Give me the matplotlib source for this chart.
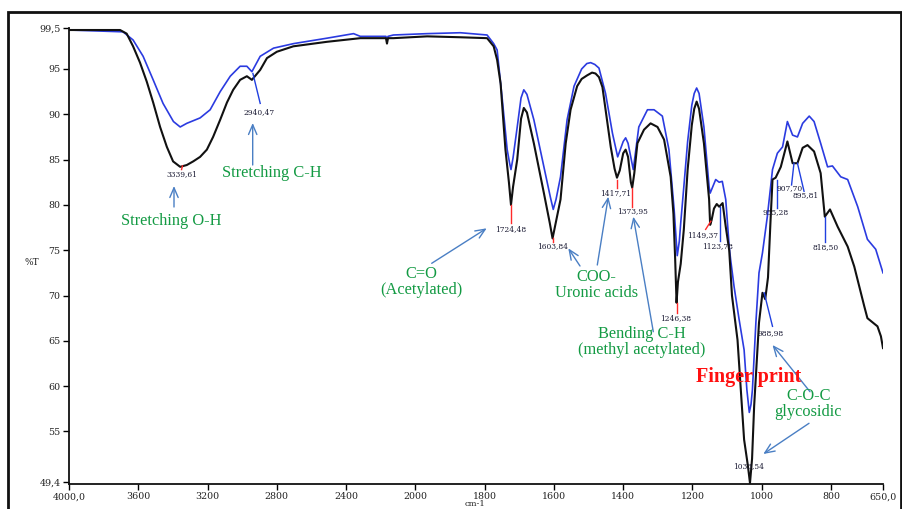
import numpy as np
import matplotlib
matplotlib.use("Agg")
import matplotlib.pyplot as plt
from matplotlib.patches import Rectangle

# ---------------- data ----------------
black_wn = [4000, 3705, 3667, 3630, 3590, 3551, 3514, 3474, 3435, 3399, 3358, 3320, 3283, 3243,
            3204, 3168, 3127, 3088, 3052, 3012, 2973, 2944, 2896, 2857, 2800, 2705, 2510, 2318,
            2170, 2164, 2158, 2127, 1966, 1870, 1793, 1774, 1764, 1754, 1740, 1730, 1724, 1718,
            1706, 1695, 1687, 1678, 1658, 1629, 1612, 1604, 1596, 1581, 1566, 1552, 1533, 1520,
            1504, 1490, 1480, 1470, 1460, 1451, 1436, 1425, 1418, 1410, 1400, 1393, 1386, 1378,
            1374, 1368, 1359, 1340, 1321, 1301, 1282, 1263, 1255, 1250, 1246, 1242, 1234, 1225,
            1214, 1202, 1195, 1188, 1181, 1167, 1152, 1149, 1145, 1138, 1130, 1123, 1113, 1104,
            1094, 1086, 1070, 1051, 1040, 1034, 1028, 1022, 1008, 998, 990, 982, 975, 969, 960,
            945, 926, 911, 897, 882, 868, 849, 830, 818, 803, 781, 752, 733, 704, 695, 666, 656, 650]
black_T = [99.3, 99.3, 98.9, 97.5, 95.7, 93.6, 91.3, 88.6, 86.4, 84.8, 84.2, 84.4, 84.8, 85.3,
           86.1, 87.5, 89.4, 91.3, 92.7, 93.8, 94.2, 93.8, 94.9, 96.2, 96.9, 97.5, 98.0, 98.4,
           98.4, 97.8, 98.4, 98.4, 98.6, 98.5, 98.4, 97.5, 96.0, 93.4, 86.1, 82.5, 80.0, 82.0,
           85.0, 89.5, 90.7, 90.2, 86.8, 81.3, 78.0, 76.3, 77.8, 80.6, 86.8, 90.5, 93.1, 93.9,
           94.3, 94.6, 94.5, 94.1, 93.0, 90.5, 86.4, 84.0, 83.0, 83.8, 85.7, 86.1, 85.3, 82.5,
           81.9, 83.5, 86.8, 88.3, 89.0, 88.6, 87.2, 83.1, 79.0, 74.0, 69.2, 71.5, 73.5, 77.3,
           83.9, 88.8, 90.6, 91.4, 90.6, 86.8, 80.6, 77.8, 78.3, 79.6, 80.1, 79.8, 80.2, 77.6,
           75.0, 70.0, 65.1, 54.1, 51.2, 49.3, 52.0, 57.8, 67.0, 70.3, 69.6, 72.0, 78.0, 82.8, 83.0,
           84.2, 87.0, 84.6, 84.6, 86.3, 86.6, 85.9, 83.5, 78.7, 79.5, 77.6, 75.4, 73.2, 68.8, 67.5,
           66.6, 65.5, 64.2]

blue_wn = [4000, 3688, 3630, 3572, 3514, 3457, 3397, 3358, 3320, 3243, 3185, 3127, 3069, 3012,
           2973, 2944, 2896, 2819, 2703, 2510, 2357, 2318, 2170, 2164, 2158, 2127, 1966, 1870,
           1793, 1774, 1764, 1749, 1735, 1728, 1724, 1718, 1706, 1695, 1687, 1678, 1658, 1629,
           1610, 1602, 1594, 1581, 1562, 1542, 1520, 1505, 1494, 1482, 1470, 1451, 1431, 1416,
           1400, 1393, 1386, 1371, 1355, 1330, 1311, 1287, 1268, 1253, 1244, 1238, 1234, 1225,
           1214, 1202, 1195, 1188, 1181, 1167, 1152, 1149, 1133, 1123, 1114, 1104, 1094, 1090,
           1080, 1066, 1051, 1043, 1036, 1031, 1027, 1017, 1008, 998, 984, 969, 955, 940, 926,
           911, 897, 882, 863, 849, 830, 810, 796, 772, 752, 723, 695, 671, 650]
blue_T = [99.3, 99.1, 98.2, 96.4, 93.8, 91.2, 89.2, 88.6, 89.0, 89.6, 90.5, 92.5, 94.2, 95.3,
          95.3, 94.7, 96.4, 97.3, 97.8, 98.4, 98.9, 98.6, 98.6, 98.2, 98.6, 98.75, 98.9, 99.0,
          98.75, 97.8, 97.1, 91.6, 86.1, 84.6, 83.9, 85.2, 88.6, 91.8, 92.7, 92.2, 89.4, 84.2,
          80.8, 79.5, 80.6, 83.1, 89.4, 93.1, 95.0, 95.6, 95.7, 95.5, 95.1, 92.3, 87.9, 85.3,
          87.0, 87.4, 86.8, 83.9, 88.6, 90.5, 90.5, 89.8, 86.1, 79.5, 74.4, 76.0, 78.0, 82.0,
          87.0, 91.0, 92.3, 92.9, 92.3, 88.6, 82.0, 81.3, 82.8, 82.5, 82.6, 80.6, 75.4, 74.0,
          71.0, 67.5, 64.0, 59.6, 57.1, 58.0, 59.6, 67.0, 72.5, 74.7, 78.7, 83.9, 85.7, 86.4, 89.2,
          87.7, 87.5, 89.0, 89.8, 89.2, 86.8, 84.2, 84.3, 83.1, 82.8, 79.8, 76.2, 75.1, 72.5]

x_ticks = [4000, 3600, 3200, 2800, 2400, 2000, 1800, 1600, 1400, 1200, 1000, 800, 650]
x_tick_labels = ["4000,0", "3600", "3200", "2800", "2400", "2000", "1800", "1600", "1400",
                 "1200", "1000", "800", "650,0"]
y_ticks = [99.5, 95, 90, 85, 80, 75, 70, 65, 60, 55, 49.4]
y_tick_labels = ["99,5", "95", "90", "85", "80", "75", "70", "65", "60", "55", "49,4"]

peak_labels = ["3339,61", "2940,47", "1724,48", "1603,84", "1417,71", "1373,95", "1246,38",
               "1149,37", "1123,78", "1033,54", "988,98", "955,28", "907,70", "895,81", "818,50"]
peak_text_wn = [3350, 2900, 1725, 1605, 1422, 1374, 1249, 1171, 1128, 1037, 974, 960, 921, 873, 815]
peak_text_T = [83.4, 90.2, 77.3, 75.5, 81.3, 79.3, 67.5, 76.7, 75.5, 51.2, 65.9, 79.2, 81.9, 81.1, 75.3]
lead_wn0 = [3345, 2938, 1724, 1604, 1418, 1374, 1246, 1147, 1121, np.nan, 993, 955, 907, 897, 817]
lead_T0 = [84.3, 94.5, 80.0, 76.3, 82.8, 81.9, 69.2, 78.2, 79.8, np.nan, 70.3, 82.8, 84.6, 84.6, 78.7]
lead_wn1 = [3350, 2896, 1724, 1604, 1418, 1374, 1246, 1162, 1121, np.nan, 969, 955, 914, 878, 817]
lead_T1 = [83.9, 91.2, 78.0, 75.9, 81.9, 79.8, 68.1, 77.3, 76.0, np.nan, 66.6, 79.7, 82.2, 81.5, 75.9]
lead_colors = ["red", "blue", "red", "red", "red", "red", "red", "red", "blue", "none",
               "blue", "blue", "blue", "blue", "blue"]

# ---------------- figure ----------------
W, H = 903, 509
fig = plt.figure(figsize=(W / 100, H / 100), dpi=100)
ax = fig.add_axes([69 / W, 25 / H, 814 / W, 455.8 / H])


def fwd(x):
    x = np.asarray(x, dtype=float)
    return np.where(x <= 2000, x, 2000 + (x - 2000) / 2.0)


def inv(y):
    y = np.asarray(y, dtype=float)
    return np.where(y <= 2000, y, 2000 + (y - 2000) * 2.0)


ax.set_xscale("function", functions=(fwd, inv))
ax.set_xlim(4000, 650)
ax.set_ylim(49.2, 99.5)

ax.plot(black_wn, black_T, color="#111111", lw=1.5, zorder=3, solid_joinstyle="round")
ax.plot(blue_wn, blue_T, color="#2b3be0", lw=1.2, zorder=2, solid_joinstyle="round")

for s in ["top", "right"]:
    ax.spines[s].set_visible(False)
for s in ["left", "bottom"]:
    ax.spines[s].set_linewidth(1.3)
    ax.spines[s].set_color("#111111")

ax.set_xticks(x_ticks, x_tick_labels, fontfamily="DejaVu Serif", fontsize=6.8, color="#222222")
ax.set_yticks(y_ticks, y_tick_labels, fontfamily="DejaVu Serif", fontsize=6.8, color="#222222")
ax.minorticks_off()
ax.tick_params(direction="out", length=4, width=1, pad=2)

# peak labels and leaders
lc = {"red": "#ff2a2a", "blue": "#2040e0"}
for lab, tw, tt, w0, t0, w1, t1, c in zip(peak_labels, peak_text_wn, peak_text_T, lead_wn0,
                                          lead_T0, lead_wn1, lead_T1, lead_colors):
    if c != "none":
        ax.plot([w0, w1], [t0, t1], color=lc[c], lw=1.0, zorder=4)
    ax.text(tw, tt, lab, fontsize=5.4, fontfamily="DejaVu Serif", color="#1a1a33",
            ha="center", va="center", zorder=5)


def fp(x, y):
    return (x, H - y)


green = "#139a43"
arrow_col = "#4a7fc4"
arrows = [((174, 207), (174, 186)), ((252.7, 165), (252.7, 123)),
          ((431.7, 263.3), (486.7, 228.3)), ((580, 266), (568.3, 248.3)),
          ((597.3, 265), (608.3, 196.7)), ((653.3, 331.7), (633.3, 216.7)),
          ((810, 391.7), (772.5, 345)), ((809, 423.3), (763.3, 454))]
for tail, head in arrows:
    ax.annotate("", xy=fp(*head), xytext=fp(*tail), xycoords="figure pixels",
                textcoords="figure pixels",
                arrowprops=dict(arrowstyle="->,head_length=0.7,head_width=0.3",
                                color=arrow_col, lw=1.0, shrinkA=0, shrinkB=0))

texts = [("Stretching O-H", 171.7, 220.7), ("Stretching C-H", 271.7, 173.3),
         ("C=O", 421.7, 273.5), ("(Acetylated)", 421.7, 290),
         ("COO-", 596.7, 277.0), ("Uronic acids", 596.7, 292.7),
         ("Bending C-H", 641.7, 334), ("(methyl acetylated)", 641.7, 350),
         ("C-O-C", 808.3, 396), ("glycosidic", 808.3, 412)]
for t, x, y in texts:
    fig.text(x / W, 1 - y / H, t, color=green, fontsize=11.8, fontfamily="Liberation Serif",
             ha="center", va="center")

fig.text(748.3 / W, 1 - 376.7 / H, "Finger print", color="#ff1010", fontsize=14.5,
         fontweight="bold", fontfamily="Liberation Serif", ha="center", va="center")

fig.text(31.7 / W, 1 - 262.3 / H, "%T", fontsize=6.5, fontfamily="DejaVu Serif",
         color="#222222", ha="center", va="center")
fig.text(475 / W, 1 - 504.5 / H, "cm-1", fontsize=6.0, fontfamily="DejaVu Serif",
         color="#222222", ha="center", va="center")

# outer frame
fig.add_artist(Rectangle((8 / W, -0.1), (901 - 8) / W, (H - 12) / H + 0.1,
                         transform=fig.transFigure, fill=False, lw=2, ec="#111111"))

fig.savefig("out.png", dpi=100)
